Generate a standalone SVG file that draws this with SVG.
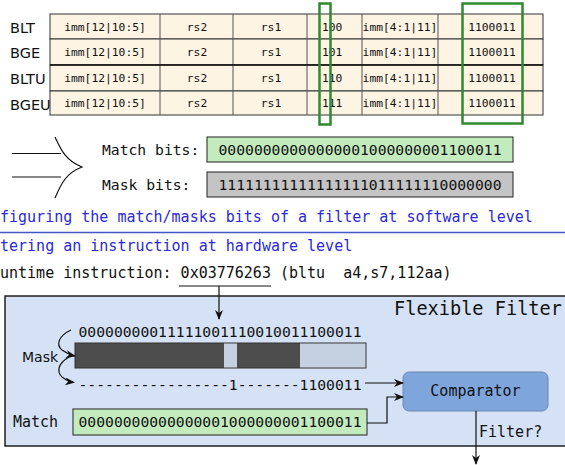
<svg xmlns="http://www.w3.org/2000/svg" width="565" height="465" viewBox="0 0 565 465">
<defs>
<style>
.mono{font-family:"DejaVu Sans Mono",monospace;fill:#111}
.sans{font-family:"DejaVu Sans",sans-serif;fill:#111}
.cell{fill:#fdf4e3;stroke:#333;stroke-width:1}
.col{stroke:#555;stroke-width:1}
.tt{font-family:"DejaVu Sans Mono",monospace;font-size:11.3px;fill:#111}
.lbl{font-family:"DejaVu Sans",sans-serif;font-size:14.5px;fill:#111}
.grn{fill:none;stroke:#2f8a2f;stroke-width:2.5}
.blue{font-family:"DejaVu Sans Mono",monospace;font-size:15px;fill:#2a2ad6}
.ln{fill:none;stroke:#111;stroke-width:1.2}
</style>
<marker id="ah" viewBox="0 0 10 8" refX="9" refY="4" markerWidth="10" markerHeight="8" markerUnits="userSpaceOnUse" orient="auto">
<path d="M0,0 L10,4 L0,8 L3,4 z" fill="#111"/>
</marker>
</defs>
<rect width="565" height="465" fill="#fff"/>

<g id="table">
<rect class="cell" x="50" y="14" width="493" height="25"/>
<rect class="cell" x="50" y="39" width="493" height="26"/>
<rect class="cell" x="50" y="65" width="493" height="26"/>
<rect class="cell" x="50" y="91" width="493" height="24"/>
<line class="col" x1="160" y1="14" x2="160" y2="115"/>
<line class="col" x1="233" y1="14" x2="233" y2="115"/>
<line class="col" x1="307" y1="14" x2="307" y2="115"/>
<line class="col" x1="362" y1="14" x2="362" y2="115"/>
<line class="col" x1="438" y1="14" x2="438" y2="115"/>
<line x1="50" y1="65" x2="543" y2="65" stroke="#111" stroke-width="1.6"/>
<g class="tt" text-anchor="middle">
<text x="105" y="31">imm[12|10:5]</text><text x="197" y="31">rs2</text><text x="271" y="31">rs1</text><text x="400" y="31">imm[4:1|11]</text><text x="492" y="31">1100011</text>
<text x="105" y="56">imm[12|10:5]</text><text x="197" y="56">rs2</text><text x="271" y="56">rs1</text><text x="400" y="56">imm[4:1|11]</text><text x="492" y="56">1100011</text>
<text x="105" y="82">imm[12|10:5]</text><text x="197" y="82">rs2</text><text x="271" y="82">rs1</text><text x="400" y="82">imm[4:1|11]</text><text x="492" y="82">1100011</text>
<text x="105" y="107">imm[12|10:5]</text><text x="197" y="107">rs2</text><text x="271" y="107">rs1</text><text x="400" y="107">imm[4:1|11]</text><text x="492" y="107">1100011</text>
</g>
<g class="tt">
<text x="322" y="31">100</text>
<text x="322" y="56">101</text>
<text x="322" y="82">110</text>
<text x="322" y="107">111</text>
</g>
<g class="lbl">
<text x="10" y="32.5">BLT</text>
<text x="10" y="58">BGE</text>
<text x="10" y="84">BLTU</text>
<text x="10" y="109.5">BGEU</text>
</g>
</g>

<g id="highlight-funct3"><rect class="grn" x="319.5" y="3.5" width="11" height="121"/></g>
<g id="highlight-opcode"><rect class="grn" x="462.5" y="3.5" width="60" height="120"/></g>

<g id="brace">
<line class="ln" x1="12" y1="153.5" x2="61" y2="153.5"/>
<line class="ln" x1="12" y1="177" x2="61" y2="177"/>
<path class="ln" d="M55,137 C61,150 66,161 82,167 C66,173 61,184 55,198"/>
</g>

<g id="sw-match">
<text class="mono" x="102" y="155" font-size="14.7">Match bits:</text>
<rect x="207" y="137" width="306" height="25" fill="#c3ebbe" stroke="#222" stroke-width="1"/>
<text class="mono" x="360" y="155" font-size="14.7" text-anchor="middle">00000000000000001000000001100011</text>
</g>
<g id="sw-mask">
<text class="mono" x="102" y="190" font-size="14.7">Mask bits:</text>
<rect x="207" y="172" width="306" height="25" fill="#c4c4c4" stroke="#222" stroke-width="1"/>
<text class="mono" x="360" y="190" font-size="14.7" text-anchor="middle">11111111111111111011111110000000</text>
</g>

<g id="captions">
<text class="blue" x="0" y="222">figuring the match/masks bits of a filter at software level</text>
<line x1="0" y1="232.5" x2="565" y2="232.5" stroke="#4455c4" stroke-width="1.4"/>
<text class="blue" x="0" y="251">tering an instruction at hardware level</text>
<text class="mono" x="0" y="278" font-size="15" xml:space="preserve" style="white-space:pre">untime instruction: 0x03776263 (bltu  a4,s7,112aa)</text>
<line x1="179" y1="286" x2="271" y2="286" stroke="#111" stroke-width="1"/>
</g>

<g id="flexible-filter">
<rect x="5" y="296" width="570" height="150" fill="#d5e1f4" stroke="#111" stroke-width="1.4"/>
<text class="mono" x="394" y="315" font-size="18.6">Flexible Filter</text>
</g>

<g id="runtime-bits">
<text class="mono" x="220" y="337" font-size="14.7" text-anchor="middle">00000000011111001110010011100011</text>
</g>

<g id="mask-bar">
<rect x="75" y="343" width="291" height="25" fill="#4d4d4d" stroke="#333" stroke-width="1"/>
<rect x="224" y="343.5" width="13" height="24" fill="#c5d0e0"/>
<rect x="300" y="343.5" width="65.5" height="24" fill="#c5d0e0"/>
<text class="sans" x="22" y="362" font-size="14">Mask</text>
</g>

<g id="masked-bits">
<text class="mono" x="220" y="390" font-size="14.7" text-anchor="middle">-----------------1-------1100011</text>
</g>

<g id="hw-match">
<text class="mono" x="13" y="427" font-size="15">Match</text>
<rect x="73" y="409" width="294" height="26" fill="#c3ebbe" stroke="#222" stroke-width="1"/>
<text class="mono" x="220" y="427" font-size="14.7" text-anchor="middle">00000000000000001000000001100011</text>
</g>

<g id="comparator">
<rect x="403" y="372" width="145" height="39" rx="6" fill="#7fa6dc" stroke="#6d88b3" stroke-width="1"/>
<text class="mono" x="475.5" y="396" font-size="15" text-anchor="middle">Comparator</text>
</g>

<g id="connectors">
<path class="ln" d="M219,286 V319" marker-end="url(#ah)"/>
<path class="ln" d="M71,330 C58,336 56,345 62,350 C66,353 70,355 75,356" marker-end="url(#ah)"/>
<path class="ln" d="M69,357 C57,364 57,372 62,377 C66,380 70,382 74,382.5" marker-end="url(#ah)"/>
<path class="ln" d="M365,383 H403" marker-end="url(#ah)"/>
<path class="ln" d="M367,423 H387 V397 H403" marker-end="url(#ah)"/>
<path class="ln" d="M476,411 V464" marker-end="url(#ah)"/>
<text class="mono" x="479" y="437" font-size="15">Filter?</text>
</g>
</svg>
